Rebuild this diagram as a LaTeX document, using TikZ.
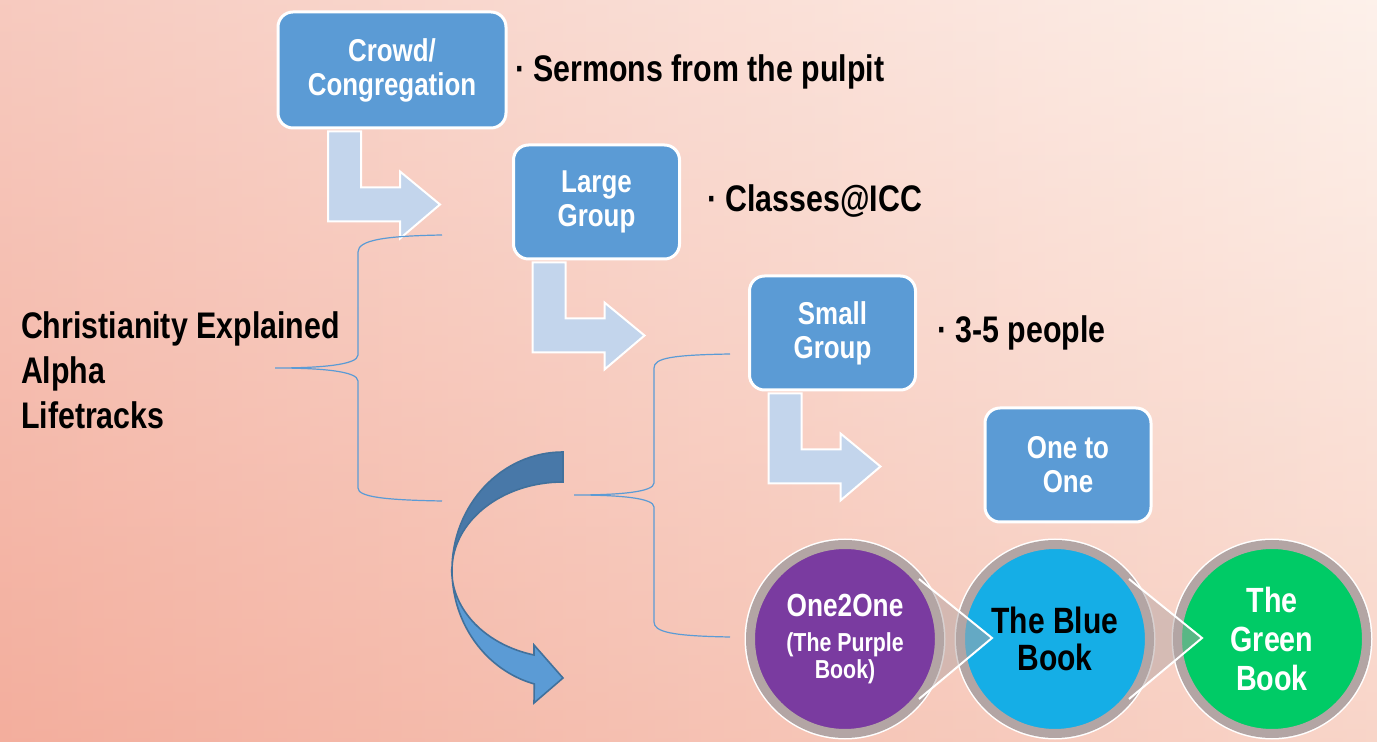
\documentclass[tikz,border=0pt]{standalone}
\usepackage{fontspec}
\setmainfont{Liberation Sans}[FakeStretch=0.82]
\usetikzlibrary{calc}

\definecolor{boxblue}{HTML}{5B9BD5}
\definecolor{paleblue}{HTML}{C3D5EC}
\definecolor{darkblue}{HTML}{41719C}
\definecolor{backblue}{HTML}{4878A8}
\definecolor{bookpurple}{HTML}{7A3BA0}
\definecolor{bookblue}{HTML}{15AEE6}
\definecolor{bookgreen}{HTML}{00CB66}
\definecolor{rimgray}{HTML}{B3A5A4}
\definecolor{bgleft}{HTML}{F3AE9D}
\definecolor{bgright}{HTML}{FCEAE0}

\tikzset{
  stage/.style={draw=white, line width=1.5pt, fill=boxblue, rounded corners=7.5pt, text=white,
    font=\bfseries\fontsize{15.8}{17}\selectfont, align=center, minimum width=83pt, minimum height=57pt},
  notetext/.style={anchor=west, font=\bfseries\fontsize{18.5}{22}\selectfont},
  bentarrow/.style={draw=white, line width=1pt, fill=paleblue},
  brace/.style={draw=boxblue, line width=0.6pt},
  book/.style={circle, inner sep=0pt, minimum size=94.5pt, draw=rimgray, line width=4.5pt,
    preaction={draw=white, line width=6pt}, align=center, font=\bfseries},
  pointer/.style={fill=rimgray, fill opacity=0.5},
}

\newcommand{\bentarrow}[1]{%
  \draw[bentarrow, shift={(#1.south)}] (-64,2) -- (-31,2) -- (-31,58) -- (8,58) -- (8,42)
    -- (48,75) -- (8,109) -- (8,92) -- (-64,92) -- cycle;}
\newcommand{\bookpointer}[1]{%
  \fill[pointer, shift={(#1.center)}] (147,-1) -- (74,-60) -- (-39:90)
    arc[start angle=-39, end angle=39, radius=90] -- (74,60) -- cycle;
  \draw[white, line width=1pt, shift={(#1.center)}] (74,-60) -- (147,-1) -- (74,60);}

\begin{document}
\begin{tikzpicture}[x=0.5pt, y=-0.5pt]
\useasboundingbox (0,0) rectangle (1377,742);
\shade[left color=bgleft, right color=bgright] (0,0) rectangle (1377,742);
\shade[top color=white, bottom color=bgleft, fill opacity=0.35] (0,0) rectangle (1377,742);

\node[stage, minimum width=114pt, minimum height=58pt] (crowd) at (392,70) {Crowd/\\Congregation};
\node[stage] (large) at (596.5,202) {Large\\Group};
\node[stage] (small) at (832.5,333) {Small\\Group};
\node[stage] (one) at (1068,465) {One to\\One};

\node[notetext] (sermons) at (508,72) {· Sermons from the pulpit};
\node[notetext] (classes) at (700,201) {· Classes@ICC};
\node[notetext] (people) at (930,333) {· 3-5 people};

\bentarrow{crowd}
\bentarrow{large}
\bentarrow{small}

\node[anchor=west, align=left, font=\bfseries\fontsize{18.5}{22.5}\selectfont] (courses) at (14,370)
  {Christianity Explained\\Alpha\\Lifetracks};

\draw[brace] (442,235) .. controls (385,236) and (358,240) .. (358,252) -- (358,355)
  .. controls (358,365) and (320,368) .. (275,368) .. controls (320,368) and (358,371) .. (358,381)
  -- (358,488) .. controls (358,497) and (385,500) .. (442,501);
\draw[brace] (730,354) .. controls (672,355) and (654,358) .. (654,368) -- (654,483)
  .. controls (654,492) and (620,495) .. (574,495) .. controls (620,495) and (654,498) .. (654,507)
  -- (654,622) .. controls (654,632) and (672,636) .. (730,637);

\draw[fill=boxblue, draw=darkblue, line width=0.8pt] (452,570)
  arc[start angle=180, end angle=105, x radius=111, y radius=118] -- (534,703) -- (563,678)
  -- (534,645) -- (534,655) arc[start angle=105, end angle=180, x radius=111, y radius=88] -- cycle;
\draw[fill=backblue, draw=darkblue, line width=0.8pt] (563,452)
  arc[start angle=270, end angle=180, x radius=111, y radius=118]
  arc[start angle=180, end angle=270, x radius=111, y radius=88] -- cycle;

\node[book, fill=bookpurple, text=white, font=\bfseries\fontsize{13}{13.5}\selectfont] (purplebook) at (845,639)
  {\fontsize{16}{20}\selectfont One2One\\[4pt](The Purple\\Book)};
\node[book, fill=bookblue, text=black, font=\bfseries\fontsize{18.3}{18.5}\selectfont] (bluebook) at (1055,639)
  {The Blue\\Book};
\node[book, fill=bookgreen, text=white, font=\bfseries\fontsize{17.5}{19.3}\selectfont] (greenbook) at (1272,639)
  {The\\Green\\Book};
\bookpointer{purplebook}
\bookpointer{bluebook}
\end{tikzpicture}
\end{document}
